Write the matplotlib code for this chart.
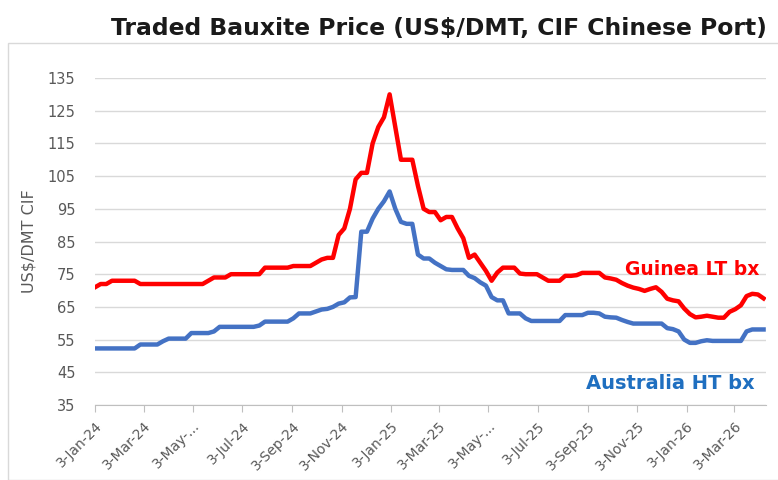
import numpy as np
import pandas as pd
import matplotlib
matplotlib.use("Agg")
import matplotlib.pyplot as plt
from matplotlib.patches import Rectangle

# weekly prices, US$/DMT CIF China
dates = pd.date_range("2024-01-03", periods=119, freq="7D")

guinea = [71, 72, 72, 73, 73, 73, 73, 73,
          72, 72, 72, 72, 72, 72, 72, 72, 72, 72, 72, 72,
          73, 74, 74, 74, 75, 75, 75, 75, 75, 75,
          77, 77, 77, 77, 77, 77.5, 77.5, 77.5, 77.5,
          78.5, 79.5, 80, 80, 87, 89, 95, 104, 106, 106, 115, 120, 123, 130,
          120, 110, 110, 110, 102, 95, 94, 94, 91.5, 92.5, 92.5, 89, 86, 80, 81,
          78.5, 76, 73, 75.5, 77, 77, 77, 75.2, 75, 75, 75, 74, 73, 73, 73,
          74.5, 74.5, 74.7, 75.4, 75.4, 75.4, 75.4, 74, 73.7, 73.3, 72.3, 71.5,
          70.9, 70.5, 69.9, 70.5, 71, 69.6, 67.5, 67, 66.7, 64.5, 62.8, 61.8,
          62, 62.3, 62, 61.7, 61.7, 63.5, 64.3, 65.5, 68.3, 69, 68.8, 67.6]

australia = [52.3, 52.3, 52.3, 52.3, 52.3, 52.3, 52.3, 52.3,
             53.5, 53.5, 53.5, 53.5, 54.5, 55.3, 55.3, 55.3, 55.3,
             57, 57, 57, 57, 57.5, 58.9, 58.9, 58.9, 58.9, 58.9, 58.9, 58.9, 59.3,
             60.5, 60.5, 60.5, 60.5, 60.5, 61.5, 63, 63, 63,
             63.6, 64.2, 64.4, 65, 66, 66.4, 67.9, 68, 88, 88, 92, 95, 97.3, 100.3,
             95, 91, 90.4, 90.4, 81, 79.8, 79.8, 78.5, 77.5, 76.5, 76.3, 76.3, 76.3,
             74.5, 73.8, 72.5, 71.5, 68, 67, 67, 63, 63, 63, 61.5, 60.7,
             60.7, 60.7, 60.7, 60.7, 60.7, 62.5, 62.5, 62.5, 62.5, 63.2, 63.2, 63,
             62, 61.8, 61.7, 61, 60.4, 59.9, 59.9, 59.9, 59.9, 59.9, 59.9,
             58.5, 58.2, 57.5, 55, 54, 54, 54.5, 54.8, 54.6, 54.6, 54.6, 54.6, 54.6,
             54.6, 57.5, 58.1, 58.1, 58.1]

tick_dates = pd.date_range("2024-01-01", "2026-03-01", freq="2MS") + pd.Timedelta(days=2)
tick_labels = [d.strftime("%-d-%b-%y") for d in tick_dates]
tick_labels = [t if "May" not in t else "3-May-..." for t in tick_labels]

fig = plt.figure(figsize=(7.78, 4.8), dpi=100)
ax = fig.add_axes([95 / 778, 1 - 405 / 480, 671 / 778, 327 / 480])

# chart area border
fig.patches.append(Rectangle((8 / 778, 0), 1, 1 - 43 / 480, transform=fig.transFigure,
                             fill=False, edgecolor="#d9d9d9", linewidth=1))

ax.plot(dates, guinea, color="#ff0000", linewidth=3.2, solid_joinstyle="round")
ax.plot(dates, australia, color="#4472c4", linewidth=3.2, solid_joinstyle="round")

ax.set_ylim(35, 135)
ax.set_yticks(np.arange(35, 136, 10))
ax.set_xlim(dates[0], dates[-1] + pd.Timedelta(days=3))
ax.set_xticks(tick_dates)
ax.set_xticklabels(tick_labels, rotation=45, ha="right", rotation_mode="anchor",
                   fontsize=10, color="#595959")
ax.tick_params(axis="y", length=0, labelsize=10.5, labelcolor="#595959", pad=14)
ax.tick_params(axis="x", length=5, color="#bfbfbf", pad=5)

ax.grid(axis="y", color="#d9d9d9", linewidth=1)
ax.set_axisbelow(True)
for s in ["top", "right", "left"]:
    ax.spines[s].set_visible(False)
ax.spines["bottom"].set_color("#bfbfbf")

ax.set_ylabel("US$/DMT CIF", fontsize=11.5, color="#595959", labelpad=8)

ax.text(0.79, 0.398, "Guinea LT bx", transform=ax.transAxes, color="#ff0000",
        fontsize=13.5, fontweight="bold")
ax.text(0.732, 0.05, "Australia HT bx", transform=ax.transAxes, color="#1f6fc0",
        fontsize=14, fontweight="bold")

fig.text(439 / 778, 1 - 29 / 480, "Traded Bauxite Price (US$/DMT, CIF Chinese Port)",
         ha="center", va="center", fontsize=16.9, fontweight="bold", color="#1a1a1a")

fig.savefig("out.png", dpi=100)
